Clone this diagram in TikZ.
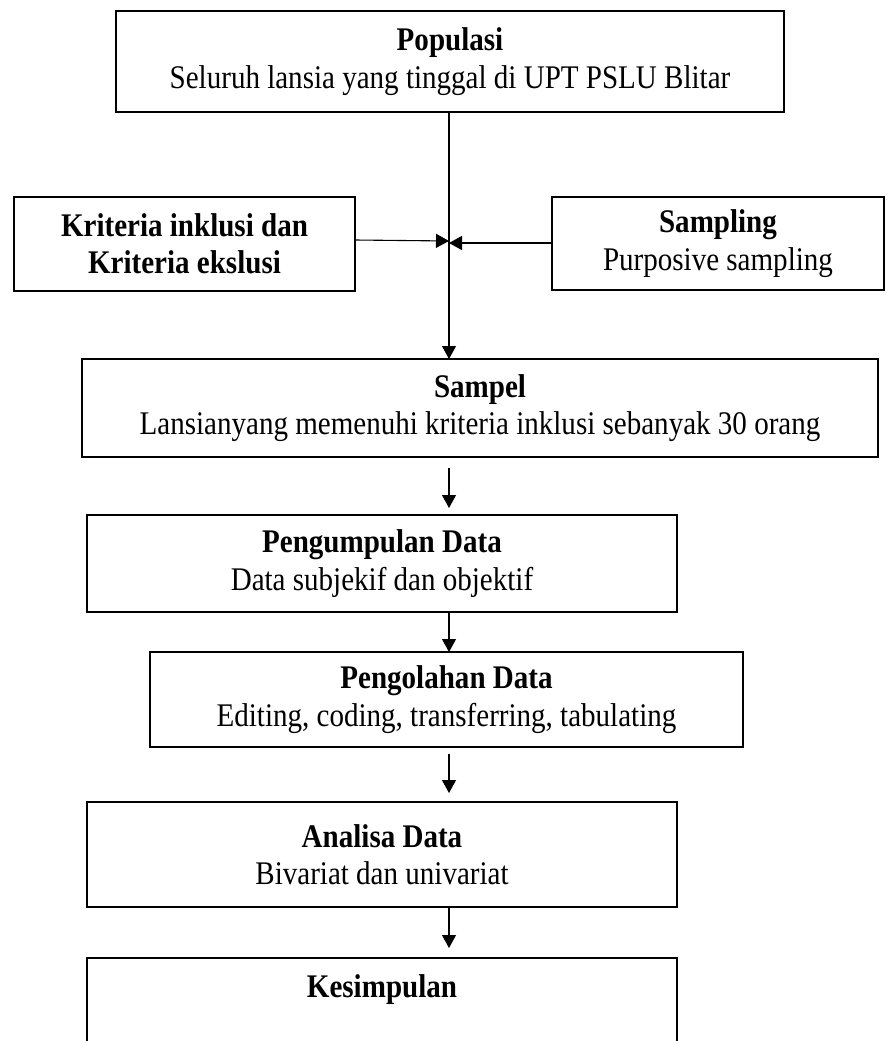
\documentclass[tikz,border=0pt]{standalone}
\usepackage{fontspec}
\setmainfont{Liberation Serif}[FakeStretch=0.88]
\usetikzlibrary{arrows.meta}
\begin{document}
\begin{tikzpicture}[x=1pt,y=-1pt,
  box/.style={draw=black, line width=2pt, inner sep=0pt, outer sep=0pt, align=center,
    font=\fontsize{33}{37.5}\selectfont},
  arr/.style={line width=1.1pt, -{Triangle[length=13pt,width=14pt]}}]
\clip (0,0) rectangle (886,1041);
\fill[white] (0,0) rectangle (886,1041);
% nodes
\node[box, minimum width=668pt, minimum height=101pt] (pop) at (450,61.5)
  {\textbf{Populasi}\\Seluruh lansia yang tinggal di UPT PSLU Blitar};
\node[box, minimum width=341pt, minimum height=94pt] (krit) at (184.5,244)
  {\textbf{Kriteria inklusi dan}\\\textbf{Kriteria ekslusi}};
\node[box, minimum width=332pt, minimum height=93pt] (samp) at (718,243.5)
  {\textbf{Sampling}\\Purposive sampling};
\node[box, minimum width=796pt, minimum height=98pt] (sampel) at (480,408)
  {\textbf{Sampel}\\Lansianyang memenuhi kriteria inklusi sebanyak 30 orang};
\node[box, minimum width=590pt, minimum height=97pt] (pengum) at (382,563.5)
  {\textbf{Pengumpulan Data}\\Data subjekif dan objektif};
\node[box, minimum width=593pt, minimum height=95pt] (pengol) at (446.5,699.5)
  {\textbf{Pengolahan Data}\\Editing, coding, transferring, tabulating};
\node[box, minimum width=590pt, minimum height=105pt] (anal) at (382,854.5)
  {\textbf{Analisa Data}\\Bivariat dan univariat};
\node[box, minimum width=590pt, minimum height=104pt] (kes) at (382,1010)
  {\textbf{Kesimpulan}\\\strut};
% junction
\coordinate (J) at (449,241);
\coordinate (J2) at (449,243);
% connectors
\draw[arr] (J |- pop.south) -- (J |- sampel.north);
\draw[arr] ([yshift=4pt]krit.east) -- (J);
\draw[arr] ([yshift=0.5pt]samp.west) -- (J2);
\draw[arr] ([yshift=-11pt]J |- sampel.south) -- ([yshift=7pt]J |- pengum.north);
\draw[arr] (J |- pengum.south) -- (J |- pengol.north);
\draw[arr] ([yshift=-7pt]J |- pengol.south) -- ([yshift=9pt]J |- anal.north);
\draw[arr] (J |- anal.south) -- ([yshift=10pt]J |- kes.north);
\end{tikzpicture}
\end{document}
